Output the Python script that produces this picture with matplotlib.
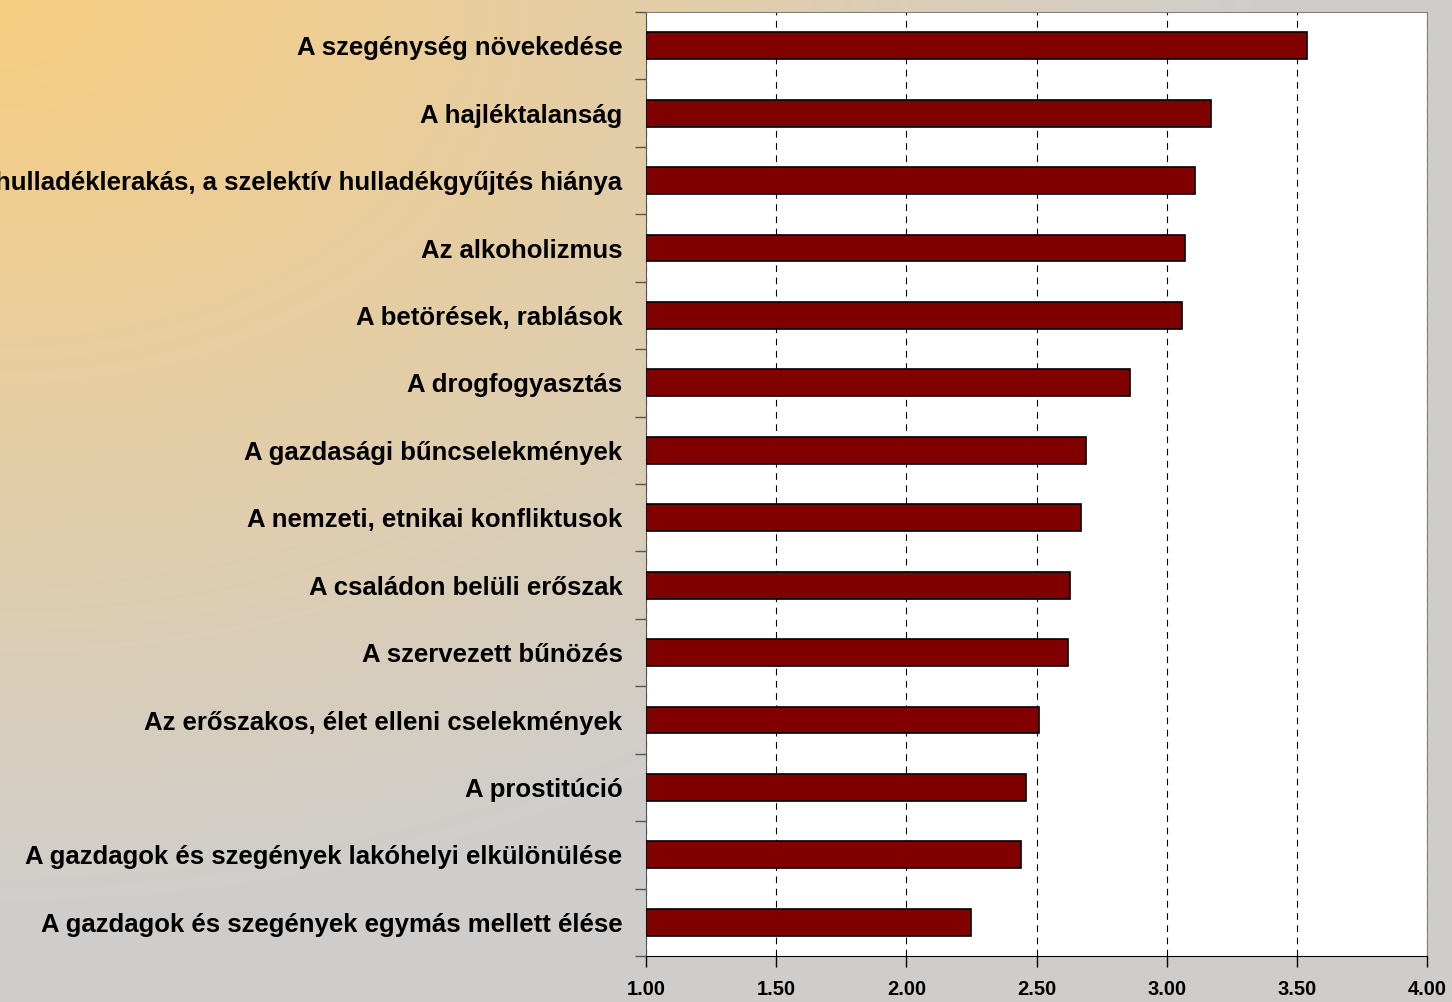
import matplotlib.pyplot as plt
import numpy as np

labels = [
    "A szegénység növekedése",
    "A hajléktalanság",
    "Az illegális hulladéklerakás, a szelektív hulladékgyűjtés hiánya",
    "Az alkoholizmus",
    "A betörések, rablások",
    "A drogfogyasztás",
    "A gazdasági bűncselekmények",
    "A nemzeti, etnikai konfliktusok",
    "A családon belüli erőszak",
    "A szervezett bűnözés",
    "Az erőszakos, élet elleni cselekmények",
    "A prostitúció",
    "A gazdagok és szegények lakóhelyi elkülönülése",
    "A gazdagok és szegények egymás mellett élése",
]
values = [3.54, 3.17, 3.11, 3.07, 3.06, 2.86, 2.69, 2.67, 2.63, 2.62, 2.51, 2.46, 2.44, 2.25]
xticks = [1.0, 1.5, 2.0, 2.5, 3.0, 3.5, 4.0]

plt.rcParams['font.family'] = ['Liberation Sans', 'DejaVu Sans']

W, H = 1452, 1002
fig = plt.figure(figsize=(W / 100, H / 100), dpi=100)

# background gradient: orange in top-left corner fading to grey
bg = fig.add_axes([0, 0, 1, 1], zorder=-10)
yy, xx = np.mgrid[0:H, 0:W]
d = np.sqrt((xx / 1250.0) ** 2 + (yy / 900.0) ** 2)
t = np.clip(d, 0, 1)[..., None]
c0 = np.array([248, 206, 128]) / 255.0
c1 = np.array([208, 206, 203]) / 255.0
img = c0 * (1 - t) + c1 * t
bg.imshow(img, aspect='auto', extent=[0, 1, 0, 1], origin='upper')
bg.axis('off')

ax = fig.add_axes([646 / W, 1 - 956 / H, (1427 - 646) / W, (956 - 12) / H])
ax.set_facecolor('white')

y = np.arange(len(labels))
ax.barh(y, [v - 1.0 for v in values], left=1.0, height=0.4,
        color='#800000', edgecolor='black', linewidth=1.2, zorder=3)

ax.set_xlim(1.0, 4.0)
ax.set_ylim(len(labels) - 0.5, -0.5)
ax.set_xticks(xticks)
ax.set_xticklabels([f"{v:.2f}" for v in xticks], fontsize=14.5, fontweight='bold')
ax.set_yticks(y)
ax.set_yticklabels(labels, fontsize=18.5, fontweight='bold')
ax.tick_params(axis='y', which='major', length=0, pad=17)
ax.set_yticks(np.arange(-0.5, len(labels), 1.0), minor=True)
ax.tick_params(axis='y', which='minor', length=8, width=1, color='#555555')
ax.tick_params(axis='x', length=8, width=1, pad=9)

ax.grid(axis='x', color='black', linestyle=(0, (6, 5)), linewidth=0.8, zorder=0)

for s in ['top', 'right']:
    ax.spines[s].set_color('#808080')
ax.spines['left'].set_color('#555555')
ax.spines['bottom'].set_color('black')

plt.savefig('out.png', dpi=100)
